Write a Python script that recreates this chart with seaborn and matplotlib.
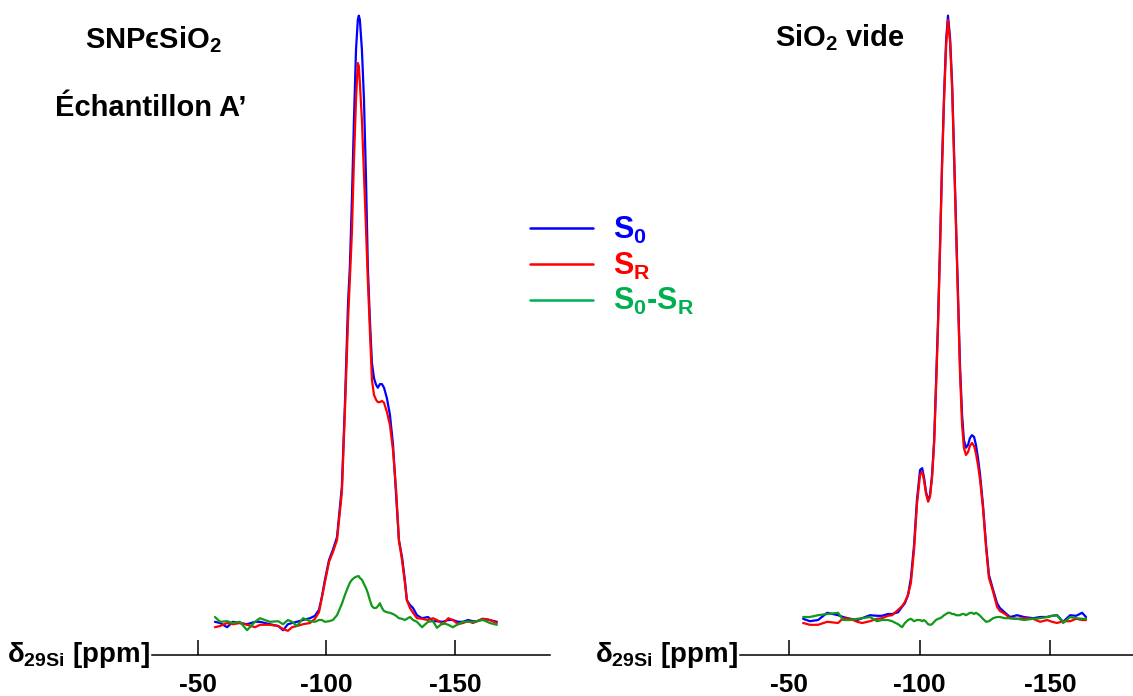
import matplotlib
matplotlib.use('Agg')
import matplotlib.pyplot as plt
import seaborn as sns
from matplotlib.lines import Line2D

# --- data (chemical shift in ppm, intensity in a.u.) ---
left_ppm = [-56.6, -58.6, -61.3, -63.6, -66.3, -69.1, -72.2, -74.1, -78.0, -81.2,
            -83.1, -85.0, -86.6, -88.5, -90.9, -93.6, -95.5, -97.1, -98.2, -99.4,
            -101.0, -102.5, -104.1, -106.0, -107.2, -108.4, -109.1, -109.9, -110.7, -111.5,
            -112.2, -112.6, -113.0, -113.8, -114.6, -115.4, -116.1, -116.9, -117.7, -118.5,
            -119.3, -120.0, -120.8, -121.6, -122.4, -123.5, -124.7, -125.9, -127.1, -128.2,
            -129.4, -130.5, -131.3, -132.5, -133.7, -135.2, -137.2, -139.5, -141.5, -143.0,
            -145.3, -147.4, -149.2, -151.2, -153.1, -155.1, -157.0, -158.6, -160.9, -163.6,
            -166.3]
left_s0 = [0.2, 0.0, -0.7, 0.2, 0.0, -0.2, 0.2, 0.2, -0.2, -0.5,
           -1.2, -0.2, 0.0, 0.2, 0.5, 0.8, 1.2, 2.2, 4.3, 7.2,
           10.5, 12.2, 14.3, 22.7, 36.7, 53.3, 59.3, 70.5, 83.8, 95.5,
           100.5, 101.2, 100.5, 95.5, 87.2, 73.8, 59.3, 50.5, 43.3, 40.8,
           39.7, 39.2, 39.8, 39.8, 39.2, 37.5, 34.7, 29.7, 21.3, 13.8,
           11.0, 7.2, 3.8, 3.0, 2.5, 1.3, 0.8, 1.0, 0.3, 0.3,
           0.2, 0.5, 0.5, 0.2, 0.2, 0.5, 0.3, 0.3, 0.7, 0.5,
           0.2]
left_sr = [-0.7, -0.5, 0.0, -0.2, 0.0, -0.3, -0.7, -0.3, -0.3, -0.5,
           -1.0, -1.3, -0.7, -0.5, -0.2, 0.0, 0.7, 1.8, 4.2, 6.8,
           10.2, 11.8, 13.8, 21.8, 35.5, 50.5, 57.2, 65.0, 77.2, 87.2,
           93.3, 92.8, 90.0, 83.8, 74.7, 65.5, 57.2, 48.8, 40.5, 38.0,
           37.2, 36.8, 36.8, 37.0, 36.7, 35.2, 33.0, 28.8, 22.2, 13.8,
           10.5, 6.8, 3.8, 2.5, 1.7, 0.8, 0.7, 0.5, 0.8, 0.5,
           -0.2, 0.8, 0.5, -0.2, 0.0, 0.3, 0.0, 0.3, 0.7, 0.5,
           0.0]
left_diff = [1.0, 0.2, 0.3, 0.0, 0.2, -1.2, 0.2, 0.8, 0.2, 0.3,
             -0.2, 0.5, 0.2, -0.5, 0.8, 0.3, 0.2, 0.5, 0.5, 0.2,
             0.3, 0.5, 1.3, 3.2, 4.7, 6.0, 6.7, 7.2, 7.5, 7.7,
             7.8, 7.8, 7.5, 7.2, 6.5, 5.8, 5.0, 3.8, 2.8, 2.5,
             2.5, 2.8, 3.3, 2.5, 2.0, 1.8, 1.7, 1.5, 1.2, 0.8,
             0.7, 0.5, 0.7, 1.0, 0.5, 0.2, -0.7, 0.2, 0.3, -0.8,
             0.0, -0.3, -0.7, -0.2, 0.2, 0.2, 0.2, 0.3, 0.5, 0.0,
             -0.3]

right_ppm = [-55.4, -58.0, -61.1, -64.6, -68.8, -70.7, -73.4, -76.1, -78.0, -81.0,
             -83.7, -85.6, -87.9, -89.5, -91.8, -93.3, -94.4, -95.6, -96.7, -97.9,
             -99.0, -100.2, -101.0, -101.7, -102.5, -103.3, -104.0, -104.8, -105.6, -106.3,
             -107.1, -107.9, -108.6, -109.4, -110.2, -110.9, -111.7, -112.5, -113.2, -114.0,
             -114.8, -115.5, -116.3, -117.0, -117.8, -118.6, -119.3, -120.1, -120.9, -121.6,
             -122.4, -123.2, -124.3, -125.5, -126.6, -128.2, -129.7, -130.8, -132.8, -134.7,
             -137.4, -140.0, -143.5, -146.2, -148.9, -150.8, -152.7, -155.0, -157.7, -160.0,
             -162.3, -163.8]
right_s0 = [0.7, 0.3, 0.5, 1.7, 1.3, 1.0, 0.7, 0.5, 0.8, 1.3,
            1.2, 1.2, 1.5, 1.5, 1.8, 2.7, 3.3, 4.7, 7.5, 13.0,
            20.5, 25.5, 25.8, 24.3, 21.8, 20.5, 21.3, 24.7, 30.5, 39.7,
            50.5, 63.8, 76.3, 88.0, 97.2, 101.2, 97.5, 89.7, 78.8, 66.3,
            53.8, 43.0, 34.7, 30.5, 29.2, 29.7, 30.8, 31.3, 31.0, 29.7,
            27.5, 24.7, 19.7, 13.0, 8.0, 5.5, 3.3, 2.5, 1.7, 1.0,
            1.3, 1.0, 0.8, 1.0, 1.0, 1.2, 1.3, 0.2, 1.3, 1.2,
            1.7, 1.0]
right_sr = [0.0, -0.3, -0.3, 0.2, 0.0, 0.8, 0.7, 0.2, 0.0, 0.3,
            0.7, 0.8, 1.2, 1.3, 2.2, 2.8, 3.5, 4.7, 6.7, 12.2,
            19.7, 24.7, 25.2, 23.8, 21.5, 20.2, 21.0, 24.2, 30.0, 38.8,
            49.7, 63.0, 75.5, 87.2, 96.3, 100.5, 96.8, 88.8, 78.0, 65.5,
            53.0, 41.8, 33.0, 29.2, 28.0, 28.5, 29.5, 30.0, 29.5, 28.3,
            26.3, 23.8, 19.2, 12.5, 7.5, 5.2, 2.7, 2.0, 1.5, 0.8,
            0.7, 0.8, 0.7, 0.2, 0.5, 0.2, 0.0, 0.3, 0.3, 0.7,
            0.5, 0.5]
right_diff = [1.0, 1.0, 1.3, 1.5, 1.7, 0.5, 0.5, 0.7, 0.8, 1.0,
              0.3, 0.5, 0.5, 0.3, -0.2, -0.7, 0.0, 0.5, 0.7, 0.3,
              0.5, 0.5, 0.3, 0.5, 0.2, -0.2, -0.3, -0.2, 0.2, 0.5,
              0.7, 0.8, 1.0, 1.3, 1.5, 1.7, 1.7, 1.5, 1.5, 1.3,
              1.3, 1.3, 1.5, 1.5, 1.3, 1.5, 1.7, 1.7, 1.5, 1.7,
              1.5, 1.2, 0.7, 0.2, 0.3, 0.8, 1.0, 1.0, 0.8, 0.8,
              0.7, 0.5, 0.7, 0.8, 1.0, 1.2, 1.3, 0.0, 1.0, 0.8,
              0.7, 0.7]

tick_values = [-50, -100, -150]
tick_labels = ['-50', '-100', '-150']
series_labels = ['S$_0$', 'S$_R$', 'S$_0$-S$_R$']

sns.set_theme(style='white')
plt.rcParams['font.family'] = ['Liberation Sans', 'DejaVu Sans']
plt.rcParams['font.weight'] = 'bold'
plt.rcParams['text.color'] = 'black'
plt.rcParams['xtick.color'] = 'black'
plt.rcParams['mathtext.fontset'] = 'custom'
plt.rcParams['mathtext.rm'] = 'Liberation Sans:bold'
plt.rcParams['mathtext.it'] = 'Liberation Sans:bold'
plt.rcParams['mathtext.bf'] = 'Liberation Sans:bold'

blue, red, green = '#0000FF', '#FF0000', '#12991A'
legend_green = '#00B050'

fig = plt.figure(figsize=(11.33, 6.96), dpi=100)
ax1 = fig.add_axes([152 / 1133, 41 / 696, 398 / 1133, 655 / 696])
ax2 = fig.add_axes([740 / 1133, 41 / 696, 393 / 1133, 655 / 696])

panels = [
    (ax1, left_ppm, left_s0, left_sr, left_diff, (-32.1, -187.0)),
    (ax2, right_ppm, right_s0, right_sr, right_diff, (-31.2, -181.8)),
]
for ax, x, s0, sr, d, xl in panels:
    sns.lineplot(x=x, y=s0, ax=ax, color=blue, lw=1.6, sort=False, estimator=None)
    sns.lineplot(x=x, y=sr, ax=ax, color=red, lw=1.6, sort=False, estimator=None)
    sns.lineplot(x=x, y=d, ax=ax, color=green, lw=1.6, sort=False, estimator=None)
    ax.set_xlim(*xl)
    ax.set_ylim(-5.33, 103.8)
    ax.set_yticks([])
    ax.set_xticks(tick_values)
    ax.set_xticklabels(tick_labels, fontsize=19, fontweight='bold')
    ax.tick_params(axis='x', direction='in', length=11, width=1.1, pad=13,
                   bottom=True, colors='black')
    for s in ['top', 'left', 'right']:
        ax.spines[s].set_visible(False)
    ax.spines['bottom'].set_color('black')
    ax.spines['bottom'].set_linewidth(1.1)
    ax.set_facecolor('none')
    ax.text(-0.006, 0.0, r'$δ_{29Si}$ [ppm]', transform=ax.transAxes,
            ha='right', va='center', fontsize=20, fontweight='bold')

fig.text(85 / 1133, 1 - 48 / 696, 'SNPϵSiO$_2$', fontsize=21, fontweight='bold',
         ha='left', va='baseline')
fig.text(55 / 1133, 1 - 116 / 696, 'Échantillon A’', fontsize=21, fontweight='bold',
         ha='left', va='baseline')
fig.text(775 / 1133, 1 - 46 / 696, 'SiO$_2$ vide', fontsize=21, fontweight='bold',
         ha='left', va='baseline')

handles = [Line2D([], [], color=blue, lw=1.8),
           Line2D([], [], color=red, lw=1.8),
           Line2D([], [], color=legend_green, lw=1.8)]
fig.legend(handles, series_labels, loc='upper left',
           bbox_to_anchor=(530 / 1133, 1 - 215 / 696), frameon=False,
           labelcolor=[blue, red, legend_green], handlelength=2.05,
           handletextpad=0.68, labelspacing=0.15, borderpad=0, borderaxespad=0,
           prop={'weight': 'bold', 'size': 22})

fig.savefig('out.png', dpi=100)
